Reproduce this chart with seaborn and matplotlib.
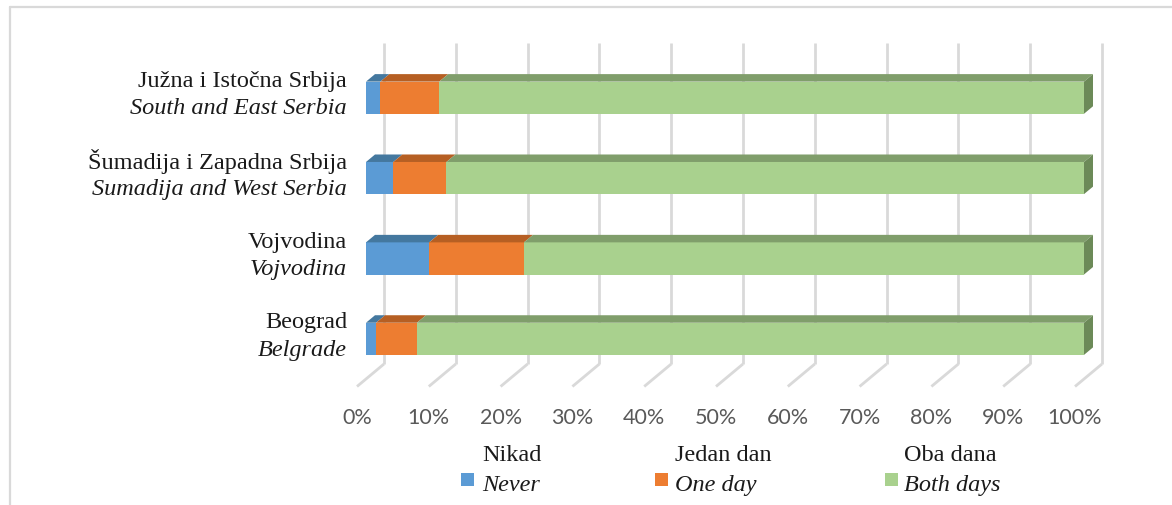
import matplotlib
matplotlib.use("Agg")
import matplotlib.pyplot as plt
from matplotlib.patches import Polygon, Rectangle
from matplotlib.lines import Line2D
import pandas as pd
import seaborn as sns

# ---- data -------------------------------------------------------------
regions_sr = ["Južna i Istočna Srbija", "Šumadija i Zapadna Srbija", "Vojvodina", "Beograd"]
regions_en = ["South and East Serbia", "Sumadija and West Serbia", "Vojvodina", "Belgrade"]
series_sr = ["Nikad", "Jedan dan", "Oba dana"]
series_en = ["Never", "One day", "Both days"]
never = [2.0, 3.8, 8.8, 1.4]
one_day = [8.2, 7.4, 13.2, 5.7]
both_days = [89.8, 88.8, 78.0, 92.9]
tick_values = [0, 10, 20, 30, 40, 50, 60, 70, 80, 90, 100]

# ---- style ------------------------------------------------------------
front_colors = ["#5b9bd5", "#ed7d31", "#a9d18e"]
top_colors = ["#44789f", "#b65f23", "#809e6b"]
side_color = "#6c8a58"
grid_color = "#d9d9d9"
serif = ["Liberation Serif", "DejaVu Serif"]
sans = ["Lato", "DejaVu Sans"]
label_size = 17.5

sns.set_theme(style="white")
plt.rcParams["font.family"] = serif

W, H = 1172, 506
fig = plt.figure(figsize=(W / 100, H / 100), dpi=100)
fig.patch.set_facecolor("white")
# axes spans the front plane of the bars
ax = fig.add_axes([366 / W, 1 - 380 / H, 718 / W, (380 - 58.5) / H])

df = pd.DataFrame({"region": regions_sr, "never": never,
                   "one_day": one_day, "both_days": both_days})
starts = [
    [0.0] * len(never),
    list(never),
    [a + b for a, b in zip(never, one_day)],
]
columns = ["never", "one_day", "both_days"]

segments = []  # list of (series index, patches)
for k, col in enumerate(columns):
    n_before = len(ax.patches)
    sns.barplot(data=df, x=col, y="region", orient="h", color=front_colors[k],
                saturation=1, width=0.4, errorbar=None, left=starts[k],
                linewidth=0, ax=ax, zorder=3)
    segments.append((k, list(ax.patches[n_before:])))

ax.set_xlim(0, 100)
ax.set_ylim(3.5, -0.5)
ax.axis("off")

# pixel -> data conversion for the oblique depth offsets
p00 = ax.transData.transform((0, 0))
p_x = ax.transData.transform((100, 0))
p_y = ax.transData.transform((0, 1))
px_x = (p_x[0] - p00[0]) / 100.0
px_y = (p00[1] - p_y[1])
dx = 9.0 / px_x     # one depth step to the right
dy = 7.5 / px_y     # one depth step upward (inverted axis)

# back-wall gridlines and floor lines
y_top, y_base = -0.5, 3.5
for t in tick_values:
    xb = t + 2 * dx
    ax.add_line(Line2D([xb, xb], [y_top - 2 * dy, y_base - 2 * dy], color=grid_color,
                       lw=2.0, zorder=0.5, clip_on=False, solid_capstyle="butt"))
    ax.add_line(Line2D([xb, t - dx], [y_base - 2 * dy, y_base + dy], color=grid_color,
                       lw=2.0, zorder=0.5, clip_on=False, solid_capstyle="butt"))
    ax.text(t - dx, y_base + dy + 31 / px_y, f"{t}%", ha="center", va="center",
            fontsize=15.5, color="#595959", family=sans, clip_on=False)

# top faces and end faces of the 3D bars
for k, patches in segments:
    for p in patches:
        x0, w = p.get_x(), p.get_width()
        yt = p.get_y()
        yb = yt + p.get_height()
        x1 = x0 + w
        ax.add_patch(Polygon([(x0, yt), (x1, yt), (x1 + dx, yt - dy), (x0 + dx, yt - dy)],
                             closed=True, facecolor=top_colors[k], edgecolor="none",
                             zorder=3, clip_on=False))
        if k == len(columns) - 1:
            ax.add_patch(Polygon([(x1, yt), (x1, yb), (x1 + dx, yb - dy), (x1 + dx, yt - dy)],
                                 closed=True, facecolor=side_color, edgecolor="none",
                                 zorder=3, clip_on=False))

# two-line category labels
label_x = -19 / px_x
for i, (sr, en) in enumerate(zip(regions_sr, regions_en)):
    yc = i - dy / 2
    ax.text(label_x, yc - 13.5 / px_y, sr, ha="right", va="center", fontsize=label_size,
            color="#1a1a1a", family=serif, clip_on=False)
    ax.text(label_x, yc + 14 / px_y, en, ha="right", va="center", fontsize=label_size,
            color="#1a1a1a", family=serif, style="italic", clip_on=False)

# legend: colour key with bilingual labels
key_x = [461, 655, 885]
text_x = [482, 675, 904]
for k in range(3):
    fig.patches.append(Rectangle((key_x[k] / W, 1 - 487 / H), 13 / W, 13 / H,
                                 transform=fig.transFigure, facecolor=front_colors[k],
                                 edgecolor="none"))
    fig.text(text_x[k] / W, 1 - 456 / H, series_sr[k], ha="left", va="center",
             fontsize=label_size, color="#1a1a1a", family=serif)
    fig.text(text_x[k] / W, 1 - 486 / H, series_en[k], ha="left", va="center",
             fontsize=label_size, color="#1a1a1a", family=serif, style="italic")

# outer frame (top and left edges)
fig.lines.append(Line2D([10 / W, 1.0], [1 - 8 / H, 1 - 8 / H], transform=fig.transFigure,
                        color=grid_color, lw=1.6))
fig.lines.append(Line2D([10 / W, 10 / W], [1 - 8 / H, 0.0], transform=fig.transFigure,
                        color=grid_color, lw=1.6))

fig.savefig("out.png", dpi=100, facecolor="white")
